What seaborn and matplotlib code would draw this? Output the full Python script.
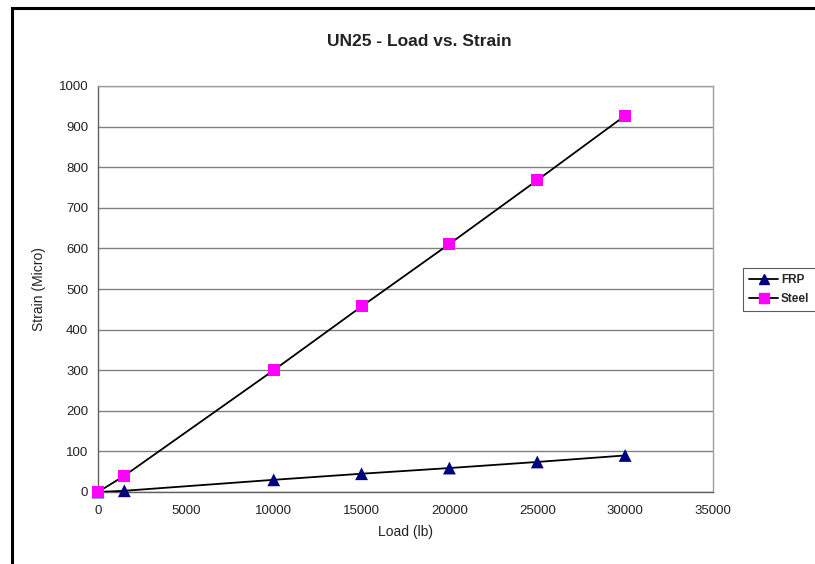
import matplotlib
matplotlib.use("Agg")
import matplotlib.pyplot as plt
from matplotlib.lines import Line2D
from matplotlib.patches import Rectangle
from matplotlib.ticker import MultipleLocator
import pandas as pd
import seaborn as sns

# Load steps (lb) and measured strain (micro-strain) for each bar type
load_lb = [0, 1500, 10000, 15000, 20000, 25000, 30000]
frp_strain = [0, 3, 30, 45, 59, 74, 90]
steel_strain = [0, 40, 300, 457, 611, 768, 927]

series_names = ["FRP", "Steel"]
series_colors = {"FRP": "#000080", "Steel": "#FF00FF"}
series_markers = {"FRP": "^", "Steel": "s"}

df = pd.concat([
    pd.DataFrame({"Load (lb)": load_lb, "Strain": frp_strain, "series": "FRP"}),
    pd.DataFrame({"Load (lb)": load_lb, "Strain": steel_strain, "series": "Steel"}),
], ignore_index=True)

sns.set_style("white")
plt.rcParams["font.family"] = ["Liberation Sans", "DejaVu Sans"]

W, H = 815, 564
fig = plt.figure(figsize=(W / 100, H / 100), dpi=100)
ax = fig.add_axes([98 / W, (H - 492) / H, (713 - 98) / W, (492 - 86) / H])

# Connecting lines in black, markers coloured per series
for name in series_names:
    sub = df[df["series"] == name]
    sns.lineplot(data=sub, x="Load (lb)", y="Strain", color="black",
                 linewidth=1.3, ax=ax, legend=False, zorder=3)
    sns.scatterplot(data=sub, x="Load (lb)", y="Strain",
                    color=series_colors[name], marker=series_markers[name],
                    s=75 if name == "Steel" else 85, edgecolor="none",
                    ax=ax, legend=False, zorder=4, clip_on=False)

ax.set_xlim(0, 35000)
ax.set_ylim(0, 1000)
ax.xaxis.set_major_locator(MultipleLocator(5000))
ax.xaxis.set_minor_locator(MultipleLocator(1000))
ax.yaxis.set_major_locator(MultipleLocator(100))
ax.yaxis.set_minor_locator(MultipleLocator(20))

ax.grid(axis="y", which="major", color="#808080", linewidth=1.0)
ax.set_axisbelow(True)

for side in ["top", "right"]:
    ax.spines[side].set_color("#a0a0a0")
    ax.spines[side].set_linewidth(1.0)
for side in ["left", "bottom"]:
    ax.spines[side].set_color("#606060")
    ax.spines[side].set_linewidth(1.0)

ax.tick_params(axis="both", which="major", direction="out", length=4,
               width=0.8, color="#606060", labelsize=9.5, labelcolor="#222222", pad=3)
ax.tick_params(axis="both", which="minor", direction="inout", length=4,
               width=0.8, color="#808080")
ax.tick_params(axis="x", which="major", pad=5)

ax.set_xlabel("Load (lb)", fontsize=10, color="#222222", labelpad=6)
ax.set_ylabel("Strain (Micro)", fontsize=10, color="#222222", labelpad=9)

fig.text(419 / W, 1 - 41 / H, "UN25 - Load vs. Strain", ha="center",
         va="center", fontsize=12.5, fontweight="bold", color="#222222")

handles = [
    Line2D([], [], color="black", linewidth=1.3, marker=series_markers[n],
           markerfacecolor=series_colors[n], markeredgecolor=series_colors[n],
           markersize=6.5)
    for n in series_names
]
leg = fig.legend(handles, series_names, loc="upper left",
                 bbox_to_anchor=(743 / W, 1 - 268 / H),
                 bbox_transform=fig.transFigure,
                 prop={"size": 8.5, "weight": "bold"}, frameon=True,
                 fancybox=False, edgecolor="#333333", handlelength=2.4,
                 handletextpad=0.25, borderpad=0.55, labelspacing=0.55,
                 borderaxespad=0)
leg.get_frame().set_linewidth(0.8)

# Outer chart border
fig.patches.append(Rectangle((12 / W, -0.1), 1.2, 1.1 - 8.5 / H,
                             transform=fig.transFigure, fill=False,
                             edgecolor="black", linewidth=2.2))

fig.savefig("out.png", dpi=100)
